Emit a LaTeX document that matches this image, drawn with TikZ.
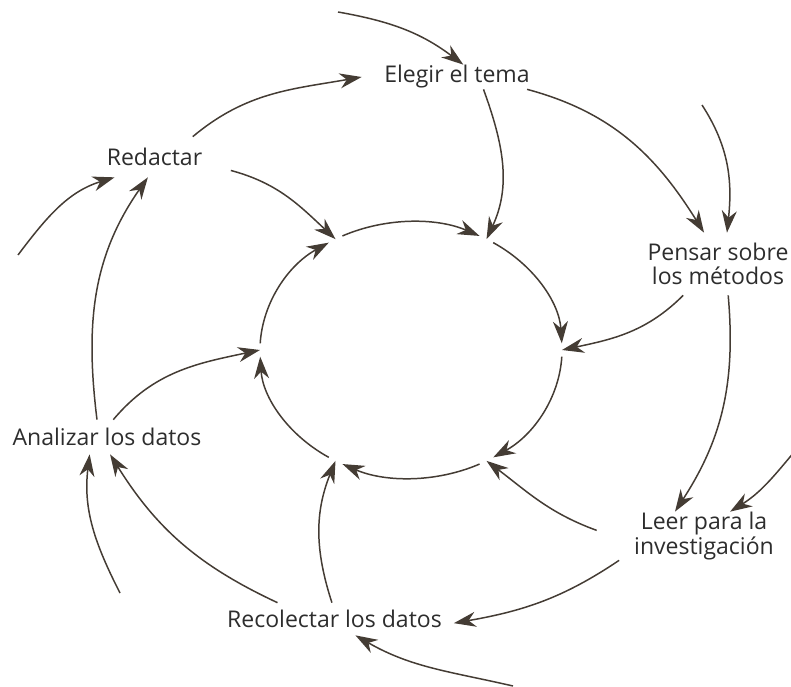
\documentclass[tikz,border=0pt]{standalone}
\usepackage{fontspec}
\setmainfont{Open Sans}
\usetikzlibrary{arrows.meta}
\definecolor{ink}{RGB}{68,60,52}
\definecolor{txt}{RGB}{45,45,45}
\tikzset{
  flow/.style={-{Stealth[length=4.4mm,width=3mm,inset=1.4mm]}, ink, line width=0.85pt},
  stage/.style={inner sep=0pt, text=txt, font=\fontsize{13.1}{14}\selectfont, align=center}
}
\begin{document}
\begin{tikzpicture}[x=0.2mm, y=-0.2mm]
\useasboundingbox (0,0) rectangle (791,687);
% etapas del ciclo
\node[stage, minimum width=38mm, minimum height=4.8mm] (tema) at (457,77) {Elegir el tema};
\node[stage, minimum width=30mm, minimum height=12.4mm] (metodos) at (718,264) {Pensar sobre\\los métodos};
\node[stage, minimum width=42.8mm, minimum height=9.6mm] (leer) at (704,536) {Leer para la\\investigación};
\node[stage, minimum width=47.6mm, minimum height=6.4mm] (datos) at (334.5,619) {Recolectar los datos};
\node[stage, minimum width=38.8mm, minimum height=6.8mm] (analisis) at (107,437) {Analizar los datos};
\node[stage, minimum width=30.4mm, minimum height=8mm] (redactar) at (154.5,157) {Redactar};
% anillo central
\coordinate (hub) at (411,350);
\foreach \a [count=\i] in {-120,-60,0,60,120,180} {
  \path (hub) ++(\a:151 and 128) coordinate (ring\i);
  \draw[flow] (hub) ++(\a+3:151 and 128) arc[start angle=\a+3, end angle=\a+57, x radius=151, y radius=128];
}
% entradas sueltas
\coordinate (t0) at (338,12);
\coordinate (m0) at (702,105);
\coordinate (l0) at (800,445);
\coordinate (d0) at (513,686);
\coordinate (a0) at (120,593);
\coordinate (r0) at (18,255);
% anillo exterior
\draw[flow] (redactar.28) to[out=40, in=190] (tema.west);
\draw[flow] (tema.-10) to[out=-15, in=122] (metodos.114);
\draw[flow] (metodos.-72) to[out=-85, in=57] (leer.140);
\draw[flow] (leer.196) to[out=214, in=10] (datos.-2);
\draw[flow] (datos.164) to[out=155, in=-58] (analisis.-80);
\draw[flow] (analisis.120) to[out=97, in=235] (redactar.-108);
% hacia el centro
\draw[flow] (redactar.-10.5) to[out=-15, in=137] (ring1);
\draw[flow] (tema.-25) to[out=-70, in=65] (ring2);
\draw[flow] (metodos.-138) to[out=-135, in=12] (ring3);
\draw[flow] (leer.177) to[out=160, in=-37] (ring4);
\draw[flow] (datos.99) to[out=108, in=-112] (ring5);
\draw[flow] (analisis.70) to[out=50, in=192] (ring6);
% desde fuera
\draw[flow] (t0) to[out=-10, in=143] (tema.63);
\draw[flow] (m0) to[out=-57, in=84] (metodos.74);
\draw[flow] (l0) to[out=-130, in=32] (leer.43);
\draw[flow] (d0) to[out=167, in=-30] (datos.-38);
\draw[flow] (a0) to[out=117, in=-97] (analisis.-135);
\draw[flow] (r0) to[out=53, in=197] (redactar.-153);
\end{tikzpicture}
\end{document}
